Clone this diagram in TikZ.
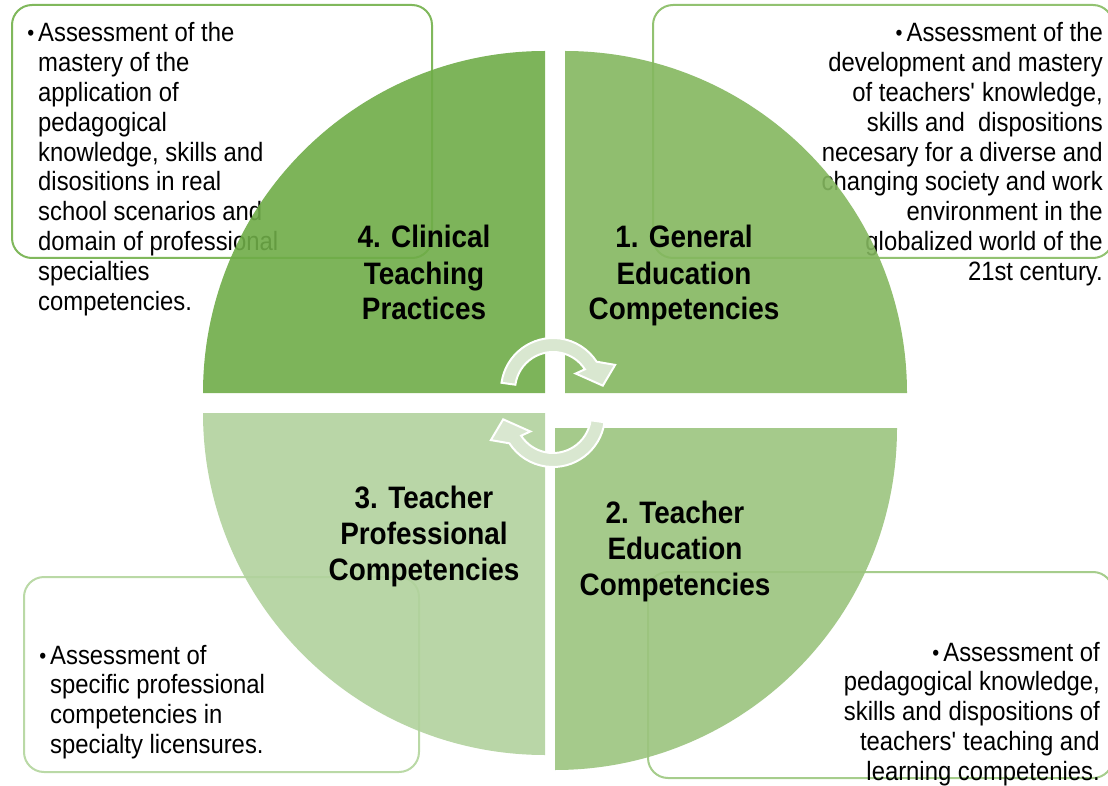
\documentclass[tikz,border=0pt]{standalone}
\usepackage{fontspec}
\setmainfont{Liberation Sans}[FakeStretch=0.9]
\definecolor{qfour}{RGB}{111,172,72}
\definecolor{qone}{RGB}{132,183,95}
\definecolor{qtwo}{RGB}{155,196,126}
\definecolor{qthree}{RGB}{177,210,157}
\definecolor{bfour}{RGB}{128,184,92}
\definecolor{bone}{RGB}{146,194,113}
\definecolor{btwo}{RGB}{166,205,140}
\definecolor{bthree}{RGB}{186,217,166}
\definecolor{arrowfill}{RGB}{217,231,208}
\newcommand\bodyfont{\fontsize{26.5}{29.8}\selectfont}
\newcommand\titlefont{\fontsize{31}{36}\selectfont\bfseries}
\newcommand\bul{\raisebox{1pt}{\fontsize{22}{22}\selectfont\textbullet}\hspace{4pt}}
\newcommand\apos{\XeTeXglyph\XeTeXglyphindex "quotesingle"\relax}
\tikzset{
  textbox/.style={draw=#1, line width=2pt, fill=white, rounded corners=20pt, inner sep=0pt},
  quad/.style={fill=#1, fill opacity=0.9, draw=none},
  bodytext/.style={inner sep=0pt, font=\bodyfont},
  titletext/.style={inner sep=0pt, font=\titlefont, anchor=base},
  cyc/.pic={\draw[fill=arrowfill, draw=white, line width=2pt, line join=miter]
     (172:52) arc[start angle=172, end angle=33, radius=52] -- (22:67) -- (5:50)
     -- (36:28) -- (33:38) arc[start angle=33, end angle=172, radius=38] -- cycle;}
}
\begin{document}
\begin{tikzpicture}[x=1pt, y=-1pt]
\useasboundingbox (0,0) rectangle (1108,786);
% text boxes
\node (box4) [textbox=bfour, minimum width=420pt, minimum height=253pt] at (222,131.5) {};
\node (box1) [textbox=bone, minimum width=460pt, minimum height=253pt] at (883,131.5) {};
\node (box2) [textbox=btwo, minimum width=465pt, minimum height=206pt] at (880.5,675) {};
\node (box3) [textbox=bthree, minimum width=395pt, minimum height=195pt] at (221.5,674.5) {};
% body texts
\node (t4) [bodytext, anchor=base west] at (38,42) {\begin{tabular}[t]{@{}l@{}}
\llap{\bul}Assessment of the\\ mastery of the\\ application of\\ pedagogical\\
knowledge, skills and\\ disositions in real\\ school scenarios and\\
domain of professional\\ specialties\\ competencies.\end{tabular}};
\node (t1) [bodytext, anchor=base east] at (1103,42) {\begin{tabular}[t]{@{}r@{}}
\bul Assessment of the\\ development and mastery\\ of teachers\apos{} knowledge,\\
skills and~ dispositions\\ necesary for a diverse and\\ changing society and work\\
environment in the\\ globalized world of the\\ 21st century.\end{tabular}};
\node (t3) [bodytext, anchor=base west] at (50,664) {\begin{tabular}[t]{@{}l@{}}
\llap{\bul}Assessment of\\ specific professional\\ competencies in\\ specialty licensures.\end{tabular}};
\node (t2) [bodytext, anchor=base east] at (1100,661) {\begin{tabular}[t]{@{}r@{}}
\bul Assessment of\\ pedagogical knowledge,\\ skills and dispositions of\\
teachers\apos{} teaching and\\ learning competenies.\end{tabular}};
% quadrants
\path[quad=qfour] (545,393) -- (203,393) arc[start angle=180, end angle=270, radius=342] -- cycle;
\path[quad=qone] (565,393) -- (565,51) arc[start angle=270, end angle=360, radius=342] -- cycle;
\path[quad=qtwo] (555,428) -- (897,428) arc[start angle=0, end angle=90, radius=342] -- cycle;
\path[quad=qthree] (545,413) -- (545,755) arc[start angle=90, end angle=180, radius=342] -- cycle;
% cycle arrows
\pic (arrowtop) [yscale=-1] at (553,390) {cyc};
\pic (arrowbottom) [yscale=-1, rotate=180] at (553,415) {cyc};
% titles
\node (q4) [titletext] at (424,248) {\begin{tabular}[t]{@{}c@{}}4. Clinical\\ Teaching\\ Practices\end{tabular}};
\node (q1) [titletext] at (684,248) {\begin{tabular}[t]{@{}c@{}}1. General\\ Education\\ Competencies\end{tabular}};
\node (q3) [titletext] at (424,508) {\begin{tabular}[t]{@{}c@{}}3. Teacher\\ Professional\\ Competencies\end{tabular}};
\node (q2) [titletext] at (675,523) {\begin{tabular}[t]{@{}c@{}}2. Teacher\\ Education\\ Competencies\end{tabular}};
\end{tikzpicture}
\end{document}
